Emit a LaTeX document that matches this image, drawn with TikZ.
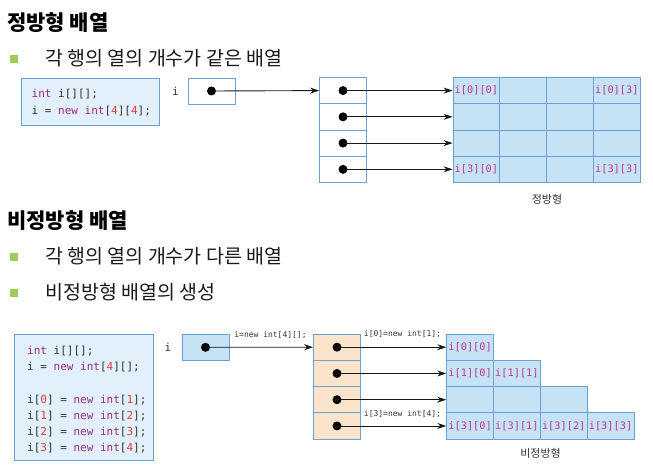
\documentclass[tikz,border=0pt]{standalone}
\usepackage{fontspec}
\usetikzlibrary{arrows.meta}
\newfontfamily\kr{Noto Sans CJK KR}
\newfontfamily\mono{DejaVu Sans Mono}
\definecolor{bord}{HTML}{6C9FD2}
\definecolor{cellfill}{HTML}{C6E3F6}
\definecolor{codefill}{HTML}{E1F0FB}
\definecolor{peach}{HTML}{FBE4CB}
\definecolor{bulletg}{HTML}{9CCB5E}
\definecolor{kwc}{HTML}{9A2A7C}
\definecolor{numc}{HTML}{D8403C}
\definecolor{idxc}{HTML}{C2348E}
\definecolor{codetxt}{HTML}{333333}
\newcommand{\kwd}[1]{\textcolor{kwc}{#1}}
\newcommand{\nmb}[1]{\textcolor{numc}{#1}}
\tikzset{
  box/.style={draw=bord, line width=0.8pt, inner sep=0pt, minimum width=#1},
  box/.default=47pt,
  cellbox/.style={draw=bord, line width=0.8pt, fill=cellfill, inner sep=0pt,
    minimum width=46.8pt, minimum height=26.25pt, text=idxc},
  ptrbox/.style={draw=bord, line width=0.8pt, inner sep=0pt,
    minimum width=47pt, minimum height=26.25pt},
  dotn/.style={circle, fill=black, inner sep=0pt, minimum size=9pt},
  ptrarrow/.style={draw=black!90, line width=0.9pt, -{Stealth[length=9pt,width=6pt]}},
  bulletsq/.style={fill=bulletg, inner sep=0pt, minimum size=8pt},
  title/.style={anchor=west, font=\kr\bfseries\fontsize{21}{23}\selectfont, inner sep=0pt},
  btext/.style={anchor=west, font=\kr\fontsize{19.5}{22}\selectfont, inner sep=0pt, text=black!90},
  codetext/.style={anchor=north west, align=left, inner sep=0pt, text=codetxt,
    font=\mono\fontsize{11}{16}\selectfont},
  idx/.style={font=\mono\fontsize{10.3}{11}\selectfont, text=idxc, inner sep=0pt},
  smalllab/.style={font=\mono\fontsize{8}{9}\selectfont, inner sep=0pt, text=black!80},
  caption/.style={font=\kr\fontsize{11}{12}\selectfont, inner sep=0pt, text=black!80}
}
\begin{document}
\begin{tikzpicture}[x=1pt,y=-1pt]
\useasboundingbox (0,0) rectangle (653,468);
% ---------- top section ----------
\node[title] (t1) at (7,23) {정방형 배열};
\node[bulletsq] (b1) at (13.5,59) {};
\node[btext] (bt1) at (45,58) {각 행의 열의 개수가 같은 배열};
\node[box=138pt, minimum height=47pt, fill=codefill] (code1) at (90.5,101.5) {};
\node[codetext, font=\mono\fontsize{11}{16.8}\selectfont] (c1txt) at (31.5,89) {\kwd{int} i[][];\\ i = \kwd{new} \kwd{int}[\nmb{4}][\nmb{4}];};
\node[inner sep=0pt, font=\mono\fontsize{11}{12}\selectfont, text=codetxt] (ilab1) at (175.5,91) {i};
\node[box, minimum height=26pt, fill=white] (ib1) at (211.5,91) {};
\node[dotn] (id1) at (211.5,91) {};
\foreach \r in {0,1,2,3}{
  \node[ptrbox] (p\r) at (343,90.6+26.25*\r) {};
  \node[dotn] (pd\r) at (343,90.6+26.25*\r) {};
  \foreach \c in {0,1,2,3}{
    \node[cellbox] (g\r\c) at (476.4+46.8*\c,90.6+26.25*\r) {};
  }
}
\node[idx] at (g00) {i[0][0]};
\node[idx] at (g03) {i[0][3]};
\node[idx] at (g30) {i[3][0]};
\node[idx] at (g33) {i[3][3]};
\draw[ptrarrow] (id1.center) -- (p0.west);
\foreach \r in {0,1,2,3}{ \draw[ptrarrow] (pd\r.center) -- (g\r0.west); }
\node[caption] (cap1) at (547,199) {정방형};
% ---------- bottom section ----------
\node[title] (t2) at (7,221) {비정방형 배열};
\node[bulletsq] (b2) at (13.5,256.5) {};
\node[btext] (bt2) at (45,256) {각 행의 열의 개수가 다른 배열};
\node[bulletsq] (b3) at (13.5,292.5) {};
\node[btext] (bt3) at (45,292) {비정방형 배열의 생성};
\node[box=139pt, minimum height=126.5pt, fill=codefill] (code2) at (83.5,397.3) {};
\node[codetext] (c2txt) at (27,346) {\kwd{int} i[][];\\ i = \kwd{new} \kwd{int}[\nmb{4}][];\\[16.5pt]
 i[\nmb{0}] = \kwd{new} \kwd{int}[\nmb{1}];\\ i[\nmb{1}] = \kwd{new} \kwd{int}[\nmb{2}];\\
 i[\nmb{2}] = \kwd{new} \kwd{int}[\nmb{3}];\\ i[\nmb{3}] = \kwd{new} \kwd{int}[\nmb{4}];};
\node[inner sep=0pt, font=\mono\fontsize{11}{12}\selectfont, text=codetxt] (ilab2) at (168,347) {i};
\node[box, minimum height=26.5pt, fill=cellfill] (ib2) at (205.5,347.3) {};
\node[dotn] (id2) at (205.5,347.3) {};
\foreach \r in {0,1,2,3}{
  \node[ptrbox, fill=peach] (q\r) at (337,347.2+26.25*\r) {};
  \node[dotn] (qd\r) at (337,347.2+26.25*\r) {};
}
\foreach \r/\n in {0/0,1/1,2/2,3/3}{
  \foreach \c in {0,...,\n}{
    \node[cellbox] (h\r\c) at (470.1+46.8*\c,347.2+26.25*\r) {};
  }
}
\foreach \r/\c in {0/0,1/0,1/1,3/0,3/1,3/2,3/3}{
  \node[idx] at (h\r\c) {i[\r][\c]};
}
\draw[ptrarrow] (id2.center) -- (q0.west);
\foreach \r in {0,1,2,3}{ \draw[ptrarrow] (qd\r.center) -- (h\r0.west); }
\node[smalllab] (l1) at (270.5,335) {i=new int[4][];};
\node[smalllab] (l2) at (402.5,334.5) {i[0]=new int[1];};
\node[smalllab] (l3) at (402.5,414) {i[3]=new int[4];};
\node[caption] (cap2) at (540.5,453) {비정방형};
\end{tikzpicture}
\end{document}
